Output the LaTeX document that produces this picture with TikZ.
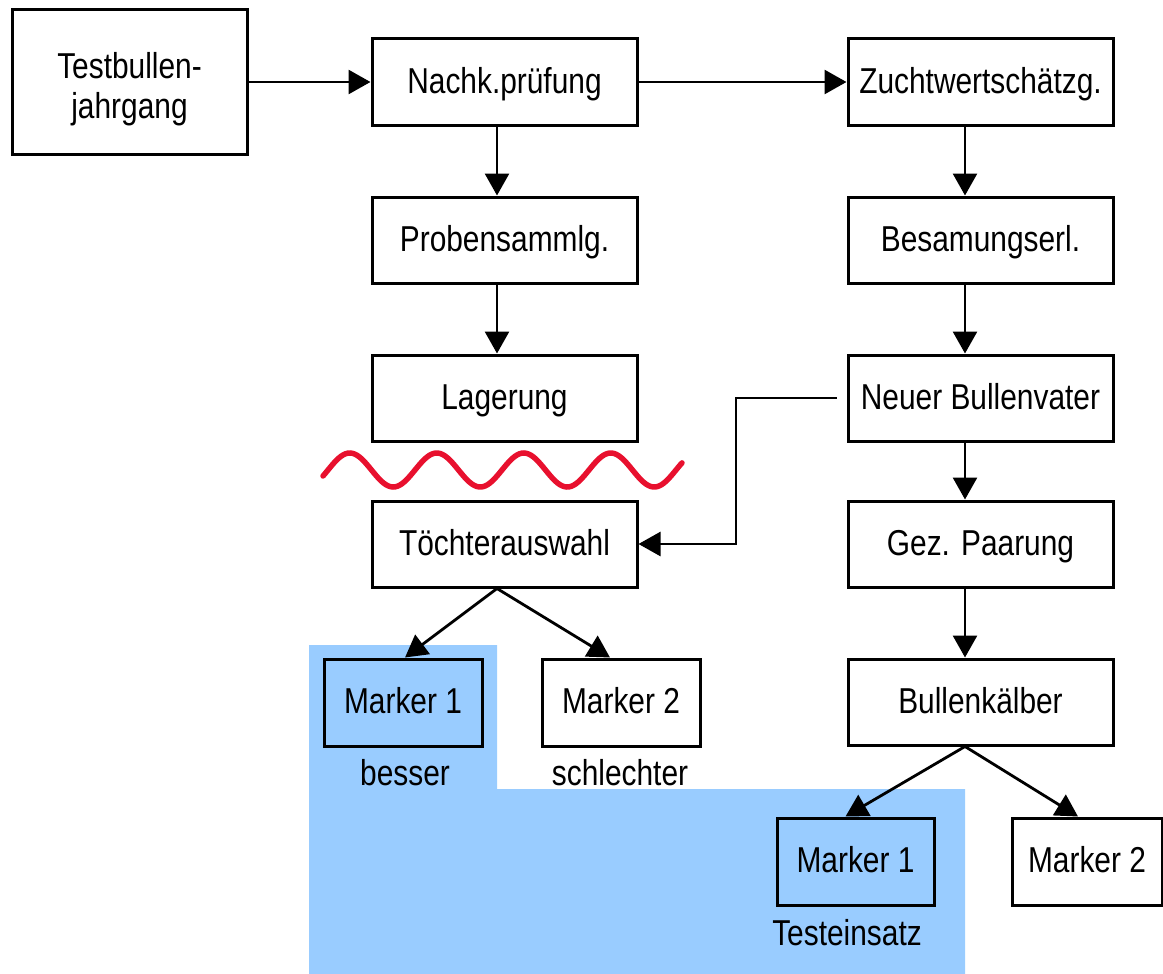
\documentclass[tikz,border=0pt]{standalone}
\usepackage{fontspec}
\setmainfont[FakeStretch=0.83]{Liberation Sans}
\usetikzlibrary{arrows.meta}
\definecolor{mblue}{HTML}{99CCFF}
\definecolor{wavered}{HTML}{E8102E}
\begin{document}
\begin{tikzpicture}[x=1pt,y=-1pt,
  box/.style={draw, line width=3pt, fill=white, minimum width=265pt, minimum height=86pt, inner sep=0pt, font=\fontsize{36}{40}\selectfont, align=center, text height=22pt, text depth=0pt},
  mbox/.style={box, minimum width=158pt, minimum height=87pt},
  lbl/.style={anchor=base, inner sep=0pt, font=\fontsize{36}{40}\selectfont},
  arr/.style={line width=2.8pt, -{Triangle[length=22pt,width=24pt]}},
  wavy/.style={wavered, line width=5.5pt, line cap=round}
]
\useasboundingbox (0,0) rectangle (1163,974);
\fill[mblue] (309,645) -- (497,645) -- (497,789) -- (965,789) -- (965,974) -- (309,974) -- cycle;

\node[box, minimum width=235pt, minimum height=145pt, text height=72pt] (t) at (129.5,82) {Testbullen-\\jahrgang};
\node[box] (n) at (504.5,82) {Nachk.prüfung};
\node[box] (z) at (980.5,82) {Zuchtwertschätzg.};
\node[box] (p) at (504.5,240) {Probensammlg.};
\node[box] (b) at (980.5,240) {Besamungserl.};
\node[box] (l) at (504.5,398) {Lagerung};
\node[box] (nb) at (980.5,398) {Neuer Bullenvater};
\node[box] (tw) at (504.5,544) {Töchterauswahl};
\node[box] (gp) at (980.5,544) {Gez. Paarung};
\node[box] (bk) at (980.5,702) {Bullenkälber};
\node[mbox, fill=mblue] (m1) at (403,702.5) {Marker 1};
\node[mbox] (m2) at (621,702.5) {Marker 2};
\node[mbox, fill=mblue, minimum width=157pt] (r1) at (855.5,861.5) {Marker 1};
\node[mbox, minimum width=150pt] (r2) at (1087,861.5) {Marker 2};

\node[lbl] (lb1) at (405,785) {besser};
\node[lbl] (lb2) at (620,785) {schlechter};
\node[lbl] (lb3) at (847,945) {Testeinsatz};

\draw[arr] (t.east) -- (n.west);
\draw[arr] (n.east) -- (z.west);
\draw[arr] ([xshift=-7.5pt]n.south) -- ([xshift=-7.5pt]p.north);
\draw[arr] ([xshift=-7.5pt]p.south) -- ([xshift=-7.5pt]l.north);
\draw[arr] ([xshift=-15.5pt]z.south) -- ([xshift=-15.5pt]b.north);
\draw[arr] ([xshift=-15.5pt]b.south) -- ([xshift=-15.5pt]nb.north);
\draw[arr] ([xshift=-15.5pt]nb.south) -- ([xshift=-15.5pt]gp.north);
\draw[arr] ([xshift=-15.5pt]gp.south) -- ([xshift=-15.5pt]bk.north);

\coordinate (k1) at (736,398);
\coordinate (k2) at (736,544);
\draw[arr, line width=2.5pt] ([xshift=-10pt]nb.west) -- (k1) -- (k2) -- (tw.east);

\draw[arr] ([xshift=-7.5pt]tw.south) -- ([xshift=2pt]m1.north);
\draw[arr] ([xshift=-7.5pt]tw.south) -- ([xshift=-11pt]m2.north);
\draw[arr] ([xshift=-15.5pt]bk.south) -- ([xshift=-10pt]r1.north);
\draw[arr] ([xshift=-15.5pt]bk.south) -- ([xshift=-9pt]r2.north);

\draw[wavy] plot[domain=323:682, samples=160, smooth] (\x, {470 - 17*sin(4.1379*(\x-328))});
\end{tikzpicture}
\end{document}
